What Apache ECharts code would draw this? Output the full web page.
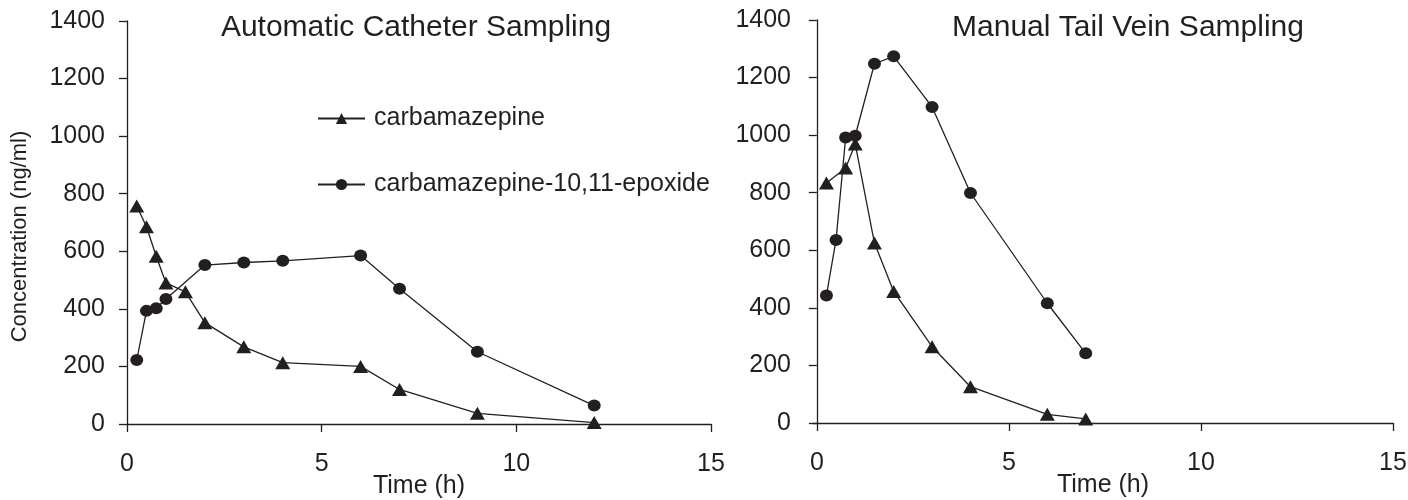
<!DOCTYPE html>
<html>
<head>
<meta charset="utf-8">
<script src="https://cdn.jsdelivr.net/npm/echarts@6/dist/echarts.min.js"></script>
<style>
  html, body { margin: 0; padding: 0; background: #fff; }
  #chart { width: 1408px; height: 500px; }
</style>
</head>
<body>
<div id="chart"></div>
<script>
// automatic catheter sampling
var autoCbzTime = [0.25, 0.5, 0.75, 1, 1.5, 2, 3, 4, 6, 7, 9, 12];
var autoCbz = [757, 685, 583, 490, 459, 352, 268, 213, 200, 120, 37, 5];
var autoEpoTime = [0.25, 0.5, 0.75, 1, 2, 3, 4, 6, 7, 9, 12];
var autoEpo = [222, 393, 402, 434, 552, 561, 567, 585, 470, 251, 64];

// manual tail vein sampling
var tailCbzTime = [0.25, 0.75, 1, 1.5, 2, 3, 4, 6, 7];
var tailCbz = [834, 886, 969, 625, 457, 265, 126, 30, 14];
var tailEpoTime = [0.25, 0.5, 0.75, 1, 1.5, 2, 3, 4, 6, 7];
var tailEpo = [443, 636, 992, 998, 1248, 1274, 1098, 799, 416, 242];

var xTicks = [0, 5, 10, 15];
var titles = ['Automatic Catheter Sampling', 'Manual Tail Vein Sampling'];
var names = ['carbamazepine', 'carbamazepine-10,11-epoxide'];

var ink = '#231f20';
var font = '"Liberation Sans", Arial, Helvetica, sans-serif';

function pairs(xs, ys) {
  return xs.map(function (x, i) { return [x, ys[i]]; });
}

function plain(v) { return String(v); }

function xAxisFor(idx, min) {
  return {
    gridIndex: idx, type: 'value', min: min, max: 15,
    name: 'Time (h)', nameLocation: 'middle', nameGap: 50, nameMoveOverlap: false,
    nameTextStyle: { color: ink, fontSize: 25, fontFamily: font },
    axisLine: { show: true, lineStyle: { color: ink, width: 1.3 } },
    axisTick: { show: true, inside: false, length: 8, customValues: xTicks, lineStyle: { color: ink, width: 1.3 } },
    axisLabel: { color: ink, fontSize: 25, fontFamily: font, margin: 28, customValues: xTicks, formatter: plain },
    splitLine: { show: false }
  };
}

function yAxisFor(idx, withName) {
  var ax = {
    gridIndex: idx, type: 'value', min: 0, max: 1400, interval: 200,
    axisLine: { show: true, lineStyle: { color: ink, width: 1.3 } },
    axisTick: { show: true, inside: false, length: 8, lineStyle: { color: ink, width: 1.3 } },
    axisLabel: { color: ink, fontSize: 25, fontFamily: font, margin: 22, formatter: plain },
    splitLine: { show: false }
  };
  if (withName) {
    ax.name = 'Concentration (ng/ml)';
    ax.nameLocation = 'middle';
    ax.nameGap = 96;
    ax.nameMoveOverlap = false;
    ax.nameTextStyle = { color: ink, fontSize: 22, fontFamily: font, padding: [0, 28, 0, 0] };
  }
  return ax;
}

function lineSeries(name, idx, data, sym, size) {
  return {
    name: name, type: 'line', xAxisIndex: idx, yAxisIndex: idx,
    data: data, symbol: sym, symbolSize: size, showSymbol: true,
    lineStyle: { color: ink, width: 1.3 },
    itemStyle: { color: ink },
    emphasis: { disabled: true },
    animation: false
  };
}

var chart = echarts.init(document.getElementById('chart'));
chart.setOption({
  backgroundColor: '#fff',
  animation: false,
  title: [
    { text: titles[0], left: 411, top: 8, textAlign: 'center',
      textStyle: { color: ink, fontSize: 30, fontWeight: 'normal', fontFamily: font } },
    { text: titles[1], left: 1123, top: 8, textAlign: 'center',
      textStyle: { color: ink, fontSize: 30, fontWeight: 'normal', fontFamily: font } }
  ],
  legend: {
    orient: 'vertical', left: 312, top: 101,
    itemWidth: 47, itemHeight: 14, itemGap: 41,
    data: names,
    textStyle: { color: ink, fontSize: 25, fontFamily: font, lineHeight: 25, padding: [0, 0, 0, 4] }
  },
  grid: [
    { left: 127, top: 21, width: 584, height: 403, outerBoundsMode: 'none', containLabel: false },
    { left: 813, top: 20, width: 580, height: 403, outerBoundsMode: 'none', containLabel: false }
  ],
  xAxis: [xAxisFor(0, 0), xAxisFor(1, -0.1)],
  yAxis: [yAxisFor(0, true), yAxisFor(1, false)],
  series: [
    lineSeries(names[0], 0, pairs(autoCbzTime, autoCbz), 'triangle', [15, 13]),
    lineSeries(names[1], 0, pairs(autoEpoTime, autoEpo), 'circle', [13, 12]),
    lineSeries(names[0], 1, pairs(tailCbzTime, tailCbz), 'triangle', [15, 13]),
    lineSeries(names[1], 1, pairs(tailEpoTime, tailEpo), 'circle', [13, 12])
  ]
});
</script>
</body>
</html>
